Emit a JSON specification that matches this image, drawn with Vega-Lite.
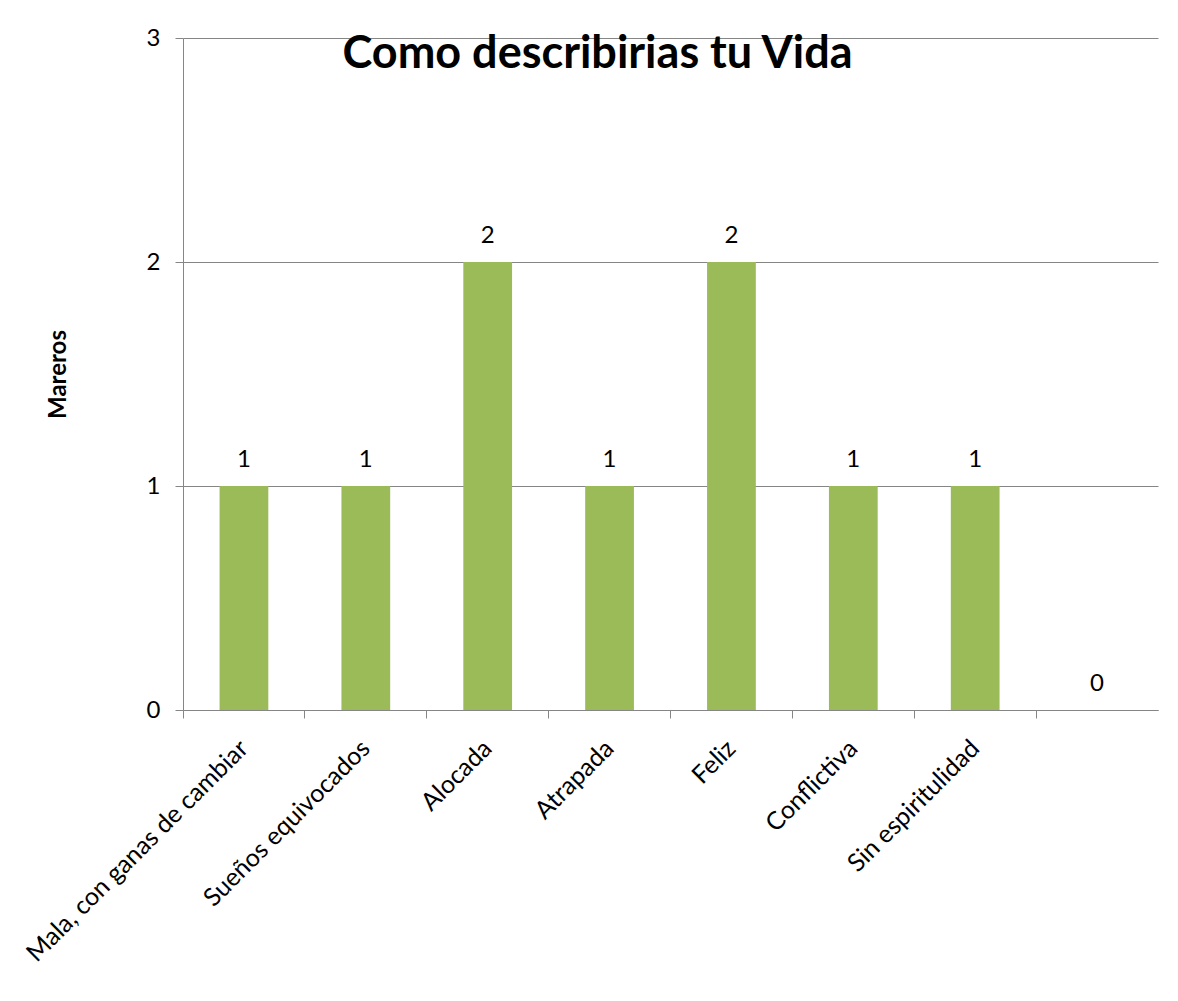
{
  "$schema": "https://vega.github.io/schema/vega-lite/v6.json",
  "width": 975,
  "height": 672,
  "autosize": {"type": "none"},
  "padding": {"left": 183, "top": 38, "right": 20, "bottom": 291},
  "background": "white",
  "title": {
    "text": "Como describirias tu Vida",
    "font": "Lato",
    "fontSize": 45,
    "fontWeight": "bold",
    "color": "black",
    "anchor": "middle",
    "frame": "group",
    "baseline": "alphabetic",
    "offset": 0,
    "dx": -73,
    "dy": 87
  },
  "data": {
    "values": [
      {"categoria": "Mala, con ganas de cambiar", "mareros": 1},
      {"categoria": "Sueños equivocados", "mareros": 1},
      {"categoria": "Alocada", "mareros": 2},
      {"categoria": "Atrapada", "mareros": 1},
      {"categoria": "Feliz", "mareros": 2},
      {"categoria": "Conflictiva", "mareros": 1},
      {"categoria": "Sin espiritulidad", "mareros": 1},
      {"categoria": " ", "mareros": 0}
    ]
  },
  "encoding": {
    "x": {
      "field": "categoria",
      "type": "nominal",
      "sort": null,
      "scale": {"paddingInner": 0.6, "paddingOuter": 0.3},
      "axis": {
        "title": null,
        "bandPosition": -0.75,
        "domainColor": "#868686",
        "tickColor": "#868686",
        "tickSize": 8,
        "labelAngle": -45,
        "labelAlign": "right",
        "labelBaseline": "middle",
        "labelFont": "Lato",
        "labelFontSize": 25,
        "labelColor": "black",
        "labelPadding": 26,
        "labelOffset": 0,
        "labelLimit": 0,
        "grid": false
      }
    },
    "y": {
      "field": "mareros",
      "type": "quantitative",
      "scale": {"domain": [0, 3], "nice": false},
      "axis": {
        "title": "Mareros",
        "titleFont": "Lato",
        "titleFontSize": 24,
        "titleFontWeight": "bold",
        "titleColor": "black",
        "titlePadding": 76,
        "values": [0, 1, 2, 3],
        "format": "d",
        "domainColor": "#868686",
        "tickColor": "#868686",
        "tickSize": 8,
        "labelFont": "Lato",
        "labelFontSize": 24,
        "labelColor": "black",
        "labelPadding": 15,
        "grid": true,
        "gridColor": "#868686",
        "gridWidth": 1
      }
    }
  },
  "layer": [
    {"mark": {"type": "bar", "color": "#9BBB59"}},
    {
      "mark": {"type": "text", "dy": -26, "font": "Lato", "fontSize": 24, "color": "black"},
      "encoding": {"text": {"field": "mareros", "type": "quantitative"}}
    }
  ],
  "config": {"view": {"stroke": null}}
}
